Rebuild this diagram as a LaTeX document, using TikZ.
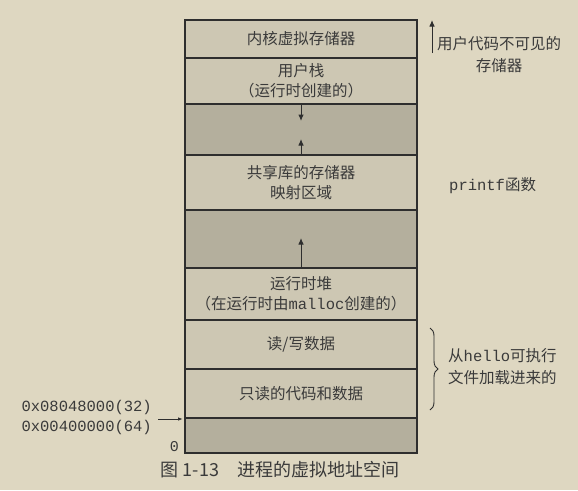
\documentclass[tikz,border=0pt]{standalone}
\usepackage{fontspec}
\setmainfont{Noto Sans CJK SC}
\setmonofont{Liberation Mono}
\usetikzlibrary{arrows.meta,decorations.pathreplacing}
\definecolor{bg}{HTML}{DED7C1}
\definecolor{lightrow}{HTML}{CDC7B3}
\definecolor{darkrow}{HTML}{B4AF9D}
\definecolor{ink}{HTML}{2E2E2E}
\definecolor{soft}{HTML}{3A3A3A}
\begin{document}
\begin{tikzpicture}[x=1pt,y=-1pt,
  row/.style={draw=ink, line width=1.1pt, minimum width=232pt, inner sep=0pt, outer sep=0pt,
    text=soft, align=center, font=\fontsize{15.5}{20}\selectfont},
  lightbox/.style={row, fill=lightrow},
  darkbox/.style={row, fill=darkrow},
  lbl/.style={text=soft, align=center, inner sep=0pt, font=\fontsize{15.5}{22}\selectfont},
  arr/.style={draw=ink, line width=1pt, -{Latex[length=6.5pt,width=5.5pt]}}]
\useasboundingbox[fill=bg] (0,0) rectangle (578,490);
\node[lightbox, minimum height=38pt] (kern) at (301,39) {内核虚拟存储器};
\node[lightbox, minimum height=46pt] (stack) at (301,81) {用户栈\\（运行时创建的）};
\node[darkbox, minimum height=51pt] (gapa) at (301,129.5) {};
\node[lightbox, minimum height=55pt] (lib) at (301,182.5) {共享库的存储器\\映射区域};
\node[darkbox, minimum height=58pt] (gapb) at (301,239) {};
\node[lightbox, minimum height=52pt] (heap) at (301,294) {运行时堆\\（在运行时由\texttt{malloc}创建的）};
\node[lightbox, minimum height=49pt] (rw) at (301,344.5) {读/写数据};
\node[lightbox, minimum height=49pt] (ro) at (301,393.5) {只读的代码和数据};
\node[darkbox, minimum height=35pt] (bot) at (301,435.5) {};
% arrows inside
\coordinate (sdown) at (301,121);
\coordinate (lup) at (301,139);
\coordinate (hup) at (301,238);
\draw[arr] (gapa.north) -- (sdown);
\draw[arr] (gapa.south) -- (lup);
\draw[arr] (gapb.south) -- (hup);
% kernel note
\coordinate (ka) at (432,53);
\coordinate (kb) at (432,20);
\draw[arr] (ka) -- (kb);
\node[lbl, anchor=north west] (knote) at (437,36) {用户代码不可见的\\存储器};
% printf
\node[lbl, anchor=west] (pf) at (449,186) {\texttt{printf}函数};
% brace
\coordinate (bra) at (430,328);
\coordinate (brb) at (430,410);
\draw[ink, line width=0.9pt, decorate, decoration={brace, amplitude=8pt}] (bra) -- (brb);
\node[lbl, anchor=west] (hello) at (448,367) {从\texttt{hello}可执行\\文件加载进来的};
% left addresses
\node[lbl, anchor=east, font=\fontsize{15.5}{20}\ttfamily] (addr) at (152,417) {0x08048000(32)\\0x00400000(64)};
\coordinate (aend) at (183,419);
\coordinate (astart) at (158,419);
\draw[draw=ink, line width=0.9pt, -{Latex[length=5pt,width=3.5pt]}] (astart) -- (aend);
\node[lbl, anchor=east, font=\fontsize{15}{20}\ttfamily] (zero) at (179,447) {0};
% caption
\node[lbl, anchor=center, font=\fontsize{18}{20}\selectfont] (cap) at (280,470) {图 1-13\quad 进程的虚拟地址空间};
\end{tikzpicture}
\end{document}
